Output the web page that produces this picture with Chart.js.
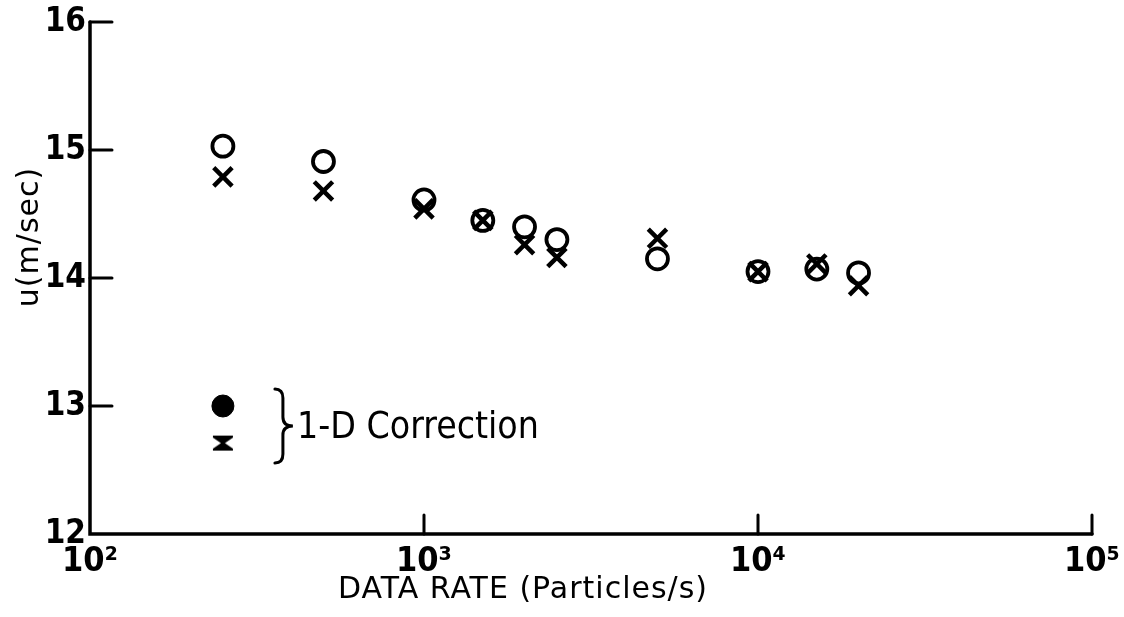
<!DOCTYPE html>
<html>
<head>
<meta charset="utf-8">
<script src="https://cdn.jsdelivr.net/npm/chart.js@4/dist/chart.umd.min.js"></script>
<style>
  html, body { margin: 0; padding: 0; background: #fff; }
  canvas { display: block; }
</style>
</head>
<body>
<canvas id="chart" width="1124" height="617"></canvas>
<script>
// data
const rates = [250, 500, 1000, 1500, 2000, 2500, 5000, 10000, 15000, 20000];
const uCircle = [15.03, 14.91, 14.61, 14.45, 14.40, 14.30, 14.15, 14.05, 14.07, 14.04];
const uCross = [14.79, 14.68, 14.54, 14.45, 14.26, 14.16, 14.31, 14.05, 14.11, 13.94];
const corrRates = [250];
const uCorrCircle = [13.0];
const uCorrCross = [12.71];
const xTicks = [100, 1000, 10000, 100000];
const xTickLabels = ['10²', '10³', '10⁴', '10⁵'];
const yTicks = [12, 13, 14, 15, 16];

const NARROW = '"DejaVu Sans Condensed", "Liberation Sans Narrow", "Liberation Sans", sans-serif';
const WIDE = '"DejaVu Sans", "Liberation Sans", sans-serif';
const INK = '#000';

// hourglass marker used for the corrected x point
const bowtie = document.createElement('canvas');
bowtie.width = 22; bowtie.height = 17;
(function () {
  const c = bowtie.getContext('2d');
  c.fillStyle = INK;
  c.beginPath();
  c.moveTo(1, 1); c.lineTo(21, 1); c.lineTo(21, 3); c.lineTo(13, 8.5); c.lineTo(21, 14); c.lineTo(21, 16);
  c.lineTo(1, 16); c.lineTo(1, 14); c.lineTo(9, 8.5); c.lineTo(1, 3); c.closePath();
  c.fill();
})();

const pts = (xs, ys) => xs.map((x, i) => ({ x: x, y: ys[i] }));

// axes, inward ticks, titles and the brace note
const decor = {
  id: 'decor',
  afterDraw(chart) {
    const { ctx, chartArea: a, scales: { x, y } } = chart;
    ctx.save();
    ctx.strokeStyle = INK;
    ctx.fillStyle = INK;
    ctx.lineCap = 'round';
    ctx.lineWidth = 3.5;
    ctx.beginPath();
    ctx.moveTo(a.left, a.top);
    ctx.lineTo(a.left, a.bottom);
    ctx.lineTo(a.right, a.bottom);
    ctx.stroke();
    ctx.lineWidth = 3;
    yTicks.forEach(v => {
      const py = y.getPixelForValue(v);
      if (v === 12) return;
      ctx.beginPath(); ctx.moveTo(a.left, py); ctx.lineTo(a.left + 22, py); ctx.stroke();
    });
    xTicks.forEach(v => {
      const px = x.getPixelForValue(v);
      if (v === 100) return;
      ctx.beginPath(); ctx.moveTo(px, a.bottom); ctx.lineTo(px, a.bottom - 19); ctx.stroke();
    });

    // axis titles
    ctx.textBaseline = 'middle';
    ctx.textAlign = 'center';
    ctx.letterSpacing = '1px';
    ctx.font = '30px ' + WIDE;
    ctx.fillText('DATA RATE (Particles/s)', 523, 590, 382);
    ctx.save();
    ctx.translate(30, 237);
    ctx.rotate(-Math.PI / 2);
    ctx.font = '30px ' + WIDE;
    ctx.fillText('u(m/sec)', 0, 0, 145);
    ctx.restore();
    ctx.letterSpacing = '0px';

    // brace + note for the corrected points
    const bx = x.getPixelForValue(corrRates[0]) + 58;
    const y0 = y.getPixelForValue(uCorrCircle[0]) - 17;
    const y1 = y.getPixelForValue(uCorrCross[0]) + 20;
    const ym = (y0 + y1) / 2;
    ctx.lineWidth = 3;
    ctx.beginPath();
    ctx.moveTo(bx - 6, y0);
    ctx.quadraticCurveTo(bx + 2, y0, bx + 2, y0 + 9);
    ctx.lineTo(bx + 2, ym - 9);
    ctx.quadraticCurveTo(bx + 2, ym, bx + 12, ym);
    ctx.quadraticCurveTo(bx + 2, ym, bx + 2, ym + 9);
    ctx.lineTo(bx + 2, y1 - 9);
    ctx.quadraticCurveTo(bx + 2, y1, bx - 6, y1);
    ctx.stroke();
    ctx.textAlign = 'left';
    ctx.font = '38px ' + NARROW;
    ctx.fillText('1-D Correction', bx + 16, ym + 2, 242);
    ctx.restore();
  }
};

new Chart(document.getElementById('chart'), {
  type: 'scatter',
  data: {
    datasets: [
      {
        label: 'o',
        data: pts(rates, uCircle),
        pointStyle: 'circle',
        pointRadius: 10.5,
        pointBorderWidth: 3.8,
        borderColor: INK,
        backgroundColor: 'rgba(0,0,0,0)'
      },
      {
        label: 'x',
        data: pts(rates, uCross),
        pointStyle: 'crossRot',
        pointRadius: 13,
        pointBorderWidth: 4.5,
        borderColor: INK,
        backgroundColor: INK
      },
      {
        label: '1-D circle',
        data: pts(corrRates, uCorrCircle),
        pointStyle: 'circle',
        pointRadius: 11,
        pointBorderWidth: 1,
        borderColor: INK,
        backgroundColor: INK
      },
      {
        label: '1-D x',
        data: pts(corrRates, uCorrCross),
        pointStyle: bowtie
      }
    ]
  },
  options: {
    responsive: false,
    animation: false,
    layout: { padding: { top: 22, right: 32, left: 0, bottom: 0 } },
    plugins: { legend: { display: false }, tooltip: { enabled: false } },
    scales: {
      x: {
        type: 'logarithmic',
        min: 100,
        max: 100000,
        afterBuildTicks: s => { s.ticks = xTicks.map(v => ({ value: v })); },
        afterFit: s => { s.height = 83; s.paddingLeft = 0; s.paddingRight = 0; },
        grid: { display: false, drawTicks: false },
        border: { display: false },
        ticks: {
          color: INK,
          padding: 8,
          maxRotation: 0,
          autoSkip: false,
          font: { family: NARROW, size: 34, weight: 'bold' },
          callback: v => xTickLabels[xTicks.indexOf(v)]
        }
      },
      y: {
        min: 12,
        max: 16,
        afterBuildTicks: s => { s.ticks = yTicks.map(v => ({ value: v })); },
        afterFit: s => { s.width = 90; s.paddingTop = 0; s.paddingBottom = 0; },
        grid: { display: false, drawTicks: false },
        border: { display: false },
        ticks: {
          color: INK,
          padding: 4,
          font: { family: NARROW, size: 33, weight: 'bold' }
        }
      }
    }
  },
  plugins: [decor]
});
</script>
</body>
</html>
